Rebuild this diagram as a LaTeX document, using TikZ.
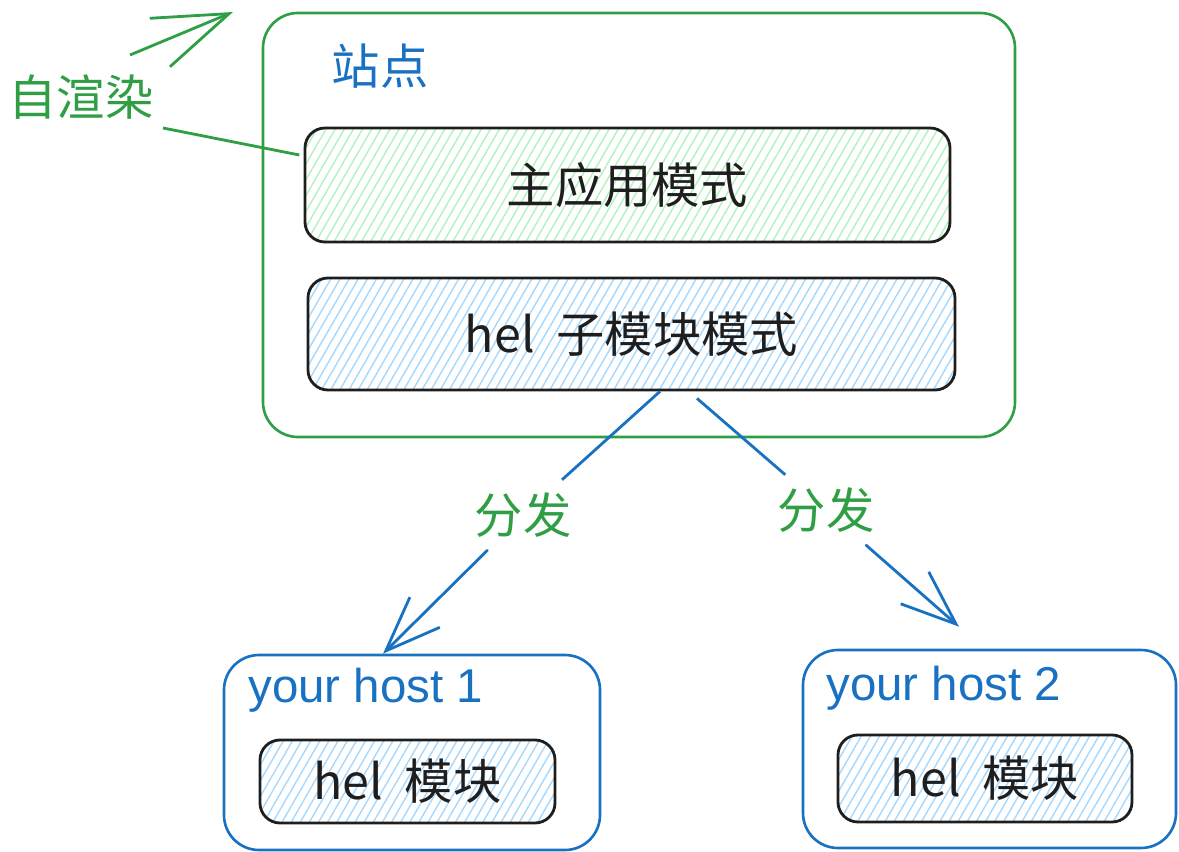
\documentclass[tikz,border=0pt]{standalone}
\usepackage{fontspec}
\newfontfamily\cjk{Noto Sans CJK SC}
\newfontfamily\hostfont{Liberation Sans}
\usetikzlibrary{patterns.meta,arrows.meta}
\definecolor{G}{RGB}{47,158,68}
\definecolor{B}{RGB}{25,113,194}
\definecolor{K}{RGB}{30,30,30}
\definecolor{GH}{RGB}{178,242,187}
\definecolor{BH}{RGB}{165,216,255}
\newcommand{\bigcjk}{\cjk\fontsize{27.5}{32}\selectfont}
\newcommand{\hel}{hel\hspace{0.45em}}
\tikzset{
  zone/.style={draw=#1, line width=1.5pt, rounded corners=0.7cm, inner sep=0pt},
  modbox/.style={draw=K, line width=1.6pt, rounded corners=0.4cm, inner sep=0pt,
    font=\bigcjk, text=K, pattern={Lines[angle=60,distance=4.5pt,line width=0.8pt]}, pattern color=#1},
  lbl/.style={font=\bigcjk, text=#1, inner sep=0pt},
  falbl/.style={font=\bigcjk, text=G, inner sep=0.25cm},
  hostlbl/.style={font=\hostfont\fontsize{27}{32}\selectfont, text=B, anchor=west, inner sep=0pt},
  arr/.style={draw=#1, line width=1.6pt, line cap=round,
    -{Straight Barb[length=1.1cm,width=0.85cm,line width=1.6pt]}}
}
\begin{document}
\begin{tikzpicture}
\useasboundingbox (0,0) rectangle (23.58,-17.04);
% site
\node[zone=G, minimum width=15.04cm, minimum height=8.48cm] (site) at (12.78,-4.5) {};
\node[lbl=B] (sitelbl) at (7.6,-1.32) {站点};
\node[modbox=GH, minimum width=12.9cm, minimum height=2.28cm] (main) at (12.55,-3.7) {主应用模式};
\node[modbox=BH, minimum width=12.94cm, minimum height=2.24cm] (mod) at (12.63,-6.68) {\hel 子模块模式};
% self render
\node[lbl=G] (zxr) at (1.62,-1.94) {自渲染};
\coordinate (zxrtip) at (4.66,-0.24);
\draw[draw=G, line width=1.6pt, -{Straight Barb[length=1.5cm,width=1.05cm,line width=1.6pt]}]
  ([shift={(0.98,0.84)}]zxr.center) -- (zxrtip);
\draw[draw=G, line width=1.6pt] ([shift={(1.64,-0.62)}]zxr.center) -- ([shift={(-0.1,0.6)}]main.west);
% hosts
\node[zone=B, minimum width=7.52cm, minimum height=3.9cm] (host1) at (8.24,-15.05) {};
\node[hostlbl] (host1lbl) at (4.96,-13.8) {your host 1};
\node[modbox=BH, minimum width=5.9cm, minimum height=1.66cm] (mod1) at (8.15,-15.63) {\hel 模块};
\node[zone=B, minimum width=7.46cm, minimum height=3.96cm] (host2) at (19.79,-14.98) {};
\node[hostlbl] (host2lbl) at (16.52,-13.76) {your host 2};
\node[modbox=BH, minimum width=5.88cm, minimum height=1.74cm] (mod2) at (19.7,-15.57) {\hel 模块};
% dispatch
\node[falbl] (fa1) at (10.46,-10.3) {分发};
\node[falbl] (fa2) at (16.52,-10.2) {分发};
\draw[draw=B, line width=1.6pt] ([xshift=0.57cm]mod.south) -- (fa1);
\draw[arr=B] (fa1) -- ([xshift=-0.58cm]host1.north);
\draw[draw=B, line width=1.6pt] ([shift={(1.31,-0.14)}]mod.south) -- (fa2);
\draw[arr=B] (fa2) -- ([shift={(-0.61,0.44)}]host2.north);
\end{tikzpicture}
\end{document}
